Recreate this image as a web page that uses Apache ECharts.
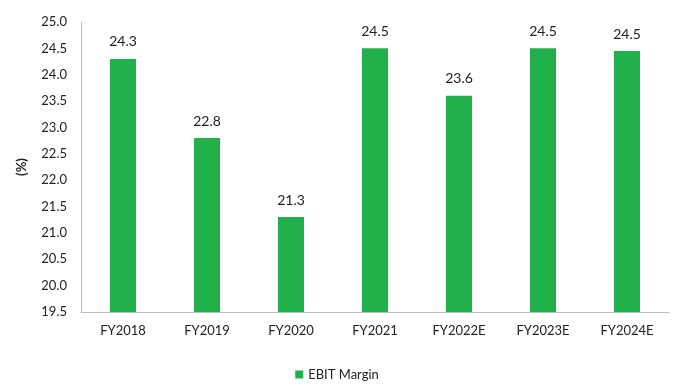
<!DOCTYPE html>
<html><head><meta charset="utf-8">
<script src="https://cdn.jsdelivr.net/npm/echarts@6/dist/echarts.min.js"></script>
<style>html,body{margin:0;padding:0;background:#fff}#c{width:674px;height:387px}</style>
</head><body><div id="c"></div>
<script>
const categories = ['FY2018','FY2019','FY2020','FY2021','FY2022E','FY2023E','FY2024E'];
const ebitMargin = [24.3, 22.8, 21.3, 24.5, 23.6, 24.5, 24.45];
const labelText = ['24.3','22.8','21.3','24.5','23.6','24.5','24.5'];
const chart = echarts.init(document.getElementById('c'));
chart.setOption({
  animation: false,
  textStyle: {fontFamily: 'Lato, sans-serif'},
  grid: {left: 81, right: 5, top: 22, bottom: 75},
  legend: {
    data: ['EBIT Margin'], bottom: 1, left: 'center',
    itemWidth: 8, itemHeight: 8, icon: 'rect', itemGap: 5,
    textStyle: {fontSize: 13, color: '#222', fontFamily: 'Lato, sans-serif'}
  },
  xAxis: {
    type: 'category', data: categories,
    axisLine: {lineStyle: {color: '#bfbfbf', width: 1}},
    axisTick: {show: false},
    axisLabel: {color: '#222', fontSize: 13, margin: 12}
  },
  yAxis: {
    type: 'value', min: 19.5, max: 25, interval: 0.5,
    name: '(%)', nameLocation: 'middle', nameGap: 53, nameRotate: 90,
    nameTextStyle: {fontWeight: 'bold', fontSize: 13, color: '#222'},
    axisLine: {show: true, lineStyle: {color: '#bfbfbf'}},
    axisTick: {show: false},
    splitLine: {show: false},
    axisLabel: {color: '#222', fontSize: 13, margin: 14, formatter: v => v.toFixed(1)}
  },
  series: [{
    name: 'EBIT Margin', type: 'bar', data: ebitMargin, barWidth: 26,
    itemStyle: {color: '#21b04b'},
    label: {show: true, position: 'top', distance: 10, color: '#222', fontSize: 14,
      formatter: p => labelText[p.dataIndex]}
  }]
});
</script></body></html>
